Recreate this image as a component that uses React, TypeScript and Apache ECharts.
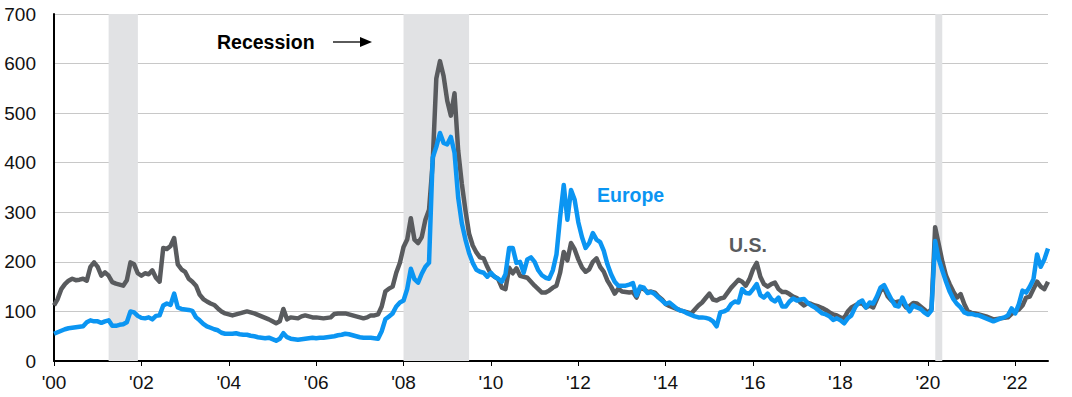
import { useEffect, useRef } from 'react';
import * as echarts from 'echarts';

// Monthly spreads (bps), Jan 2000 – Oct 2022
const startYear = 2000;

const usSpread: number[] = [
  112, 125, 145, 155, 162, 166, 163, 164, 166, 162, 190, 199, // 2000
  190, 172, 179, 172, 159, 156, 154, 152, 163, 199, 195, 177, // 2001
  172, 177, 175, 183, 168, 160, 228, 226, 232, 248, 195, 185, // 2002
  180, 166, 160, 152, 134, 125, 120, 116, 113, 106, 100, 96, // 2003
  94, 92, 94, 96, 98, 100, 98, 96, 93, 90, 87, 84, // 2004
  80, 76, 80, 105, 84, 88, 87, 86, 90, 92, 90, 88, // 2005
  88, 87, 86, 87, 88, 95, 96, 96, 96, 94, 92, 90, // 2006
  88, 86, 88, 92, 92, 94, 110, 140, 146, 150, 178, 198, // 2007
  230, 245, 288, 245, 238, 250, 285, 305, 400, 570, 605, 575, // 2008
  525, 495, 540, 425, 358, 304, 257, 233, 219, 209, 207, 190, // 2009
  175, 170, 165, 148, 145, 188, 177, 187, 172, 170, 168, 160, // 2010
  152, 145, 138, 138, 142, 148, 152, 178, 220, 203, 238, 225, // 2011
  205, 189, 180, 185, 200, 207, 190, 180, 162, 150, 136, 146, // 2012
  140, 139, 138, 139, 128, 148, 145, 139, 140, 138, 130, 124, // 2013
  115, 111, 108, 105, 102, 100, 98, 96, 104, 112, 118, 127, // 2014
  136, 124, 122, 126, 128, 138, 148, 156, 164, 160, 152, 165, // 2015
  185, 198, 170, 155, 150, 155, 158, 145, 139, 139, 135, 130, // 2016
  127, 118, 112, 117, 115, 112, 110, 107, 103, 98, 94, 92, // 2017
  88, 86, 100, 108, 112, 116, 116, 108, 112, 108, 125, 142, // 2018
  147, 130, 122, 118, 120, 118, 108, 111, 117, 116, 110, 104, // 2019
  97, 105, 270, 235, 200, 172, 155, 140, 128, 135, 115, 100, // 2020
  97, 96, 94, 92, 90, 87, 84, 85, 86, 87, 88, 95, // 2021
  100, 104, 112, 128, 130, 145, 160, 150, 145, 160, // 2022
];

const europeSpread: number[] = [
  55, 58, 61, 64, 66, 67, 68, 69, 70, 78, 82, 80, // 2000
  80, 77, 80, 82, 71, 71, 73, 74, 78, 100, 98, 91, // 2001
  87, 86, 88, 84, 91, 92, 112, 116, 113, 136, 108, 105, // 2002
  104, 103, 101, 88, 82, 75, 70, 67, 64, 62, 57, 55, // 2003
  55, 55, 56, 54, 53, 53, 51, 50, 48, 47, 46, 47, // 2004
  44, 41, 45, 56, 48, 45, 44, 43, 44, 45, 46, 47, // 2005
  46, 47, 47, 48, 49, 50, 52, 53, 55, 54, 52, 50, // 2006
  48, 47, 47, 47, 46, 45, 60, 84, 90, 96, 110, 118, // 2007
  122, 145, 186, 165, 158, 176, 190, 198, 410, 432, 460, 440, // 2008
  437, 452, 420, 330, 278, 245, 218, 198, 184, 180, 178, 170, // 2009
  178, 170, 166, 160, 175, 228, 228, 198, 200, 178, 205, 209, // 2010
  200, 183, 173, 168, 166, 183, 215, 290, 355, 285, 345, 325, // 2011
  280, 250, 228, 238, 258, 245, 240, 222, 195, 175, 160, 152, // 2012
  152, 152, 154, 157, 132, 150, 148, 137, 139, 135, 128, 122, // 2013
  115, 118, 112, 106, 102, 100, 96, 93, 90, 88, 88, 87, // 2014
  85, 80, 70, 98, 100, 104, 115, 120, 118, 145, 137, 136, // 2015
  145, 155, 133, 128, 136, 125, 120, 128, 110, 110, 120, 126, // 2016
  122, 124, 125, 117, 112, 108, 102, 96, 94, 90, 83, 86, // 2017
  82, 76, 86, 92, 108, 118, 122, 108, 118, 116, 130, 148, // 2018
  153, 138, 124, 112, 110, 128, 112, 100, 112, 108, 105, 98, // 2019
  93, 102, 242, 205, 182, 160, 140, 125, 115, 108, 98, 95, // 2020
  95, 93, 92, 89, 86, 83, 80, 83, 86, 88, 92, 106, // 2021
  96, 115, 142, 138, 150, 165, 215, 190, 205, 227, // 2022
];

// Recession periods (decimal years)
const recessionStarts = [2001.25, 2008.0, 2020.17];
const recessionEnds = [2001.92, 2009.5, 2020.33];

const xTickYears = [2000, 2002, 2004, 2006, 2008, 2010, 2012, 2014, 2016, 2018, 2020, 2022];
const xMax = 2022.75;
const yMin = 0;
const yMax = 700;
const yStep = 100;

const FONT = 'Liberation Sans, Arial, Helvetica, sans-serif';
const US_COLOR = '#595b5e';
const EU_COLOR = '#0b95f2';

export default function App() {
  const ref = useRef<HTMLDivElement>(null);

  useEffect(() => {
    if (!ref.current) return;
    const chart = echarts.init(ref.current, null, { renderer: 'svg' });
    const toPoints = (arr: number[]) => arr.map((v, i) => [startYear + i / 12, v]);

    chart.setOption({
      animation: false,
      textStyle: { fontFamily: FONT },
      grid: { left: 54, right: 24, top: 14, bottom: 36, containLabel: false },
      xAxis: {
        type: 'value',
        min: startYear,
        max: xMax,
        splitLine: { show: false },
        axisLine: { show: true, lineStyle: { color: '#000', width: 2 } },
        axisTick: {
          show: true,
          length: 5,
          lineStyle: { color: '#000', width: 1 },
          customValues: xTickYears,
        },
        axisLabel: {
          customValues: xTickYears,
          margin: 12,
          fontSize: 19,
          color: '#111',
          fontFamily: FONT,
          formatter: (v: number) => "'" + String(Math.round(v) % 100).padStart(2, '0'),
        },
      },
      yAxis: {
        type: 'value',
        min: yMin,
        max: yMax,
        interval: yStep,
        axisLine: { show: true, lineStyle: { color: '#000', width: 2 } },
        axisTick: { show: false },
        splitLine: { show: true, lineStyle: { color: '#c8c8c8', width: 1 } },
        axisLabel: { fontSize: 19, color: '#111', margin: 18, fontFamily: FONT },
      },
      series: [
        {
          name: 'Recession',
          type: 'line',
          data: [],
          z: 1,
          silent: true,
          markArea: {
            silent: true,
            itemStyle: { color: '#e1e2e4' },
            data: recessionStarts.map((s, i) => [{ xAxis: s }, { xAxis: recessionEnds[i] }]),
          },
        },
        {
          name: 'U.S.',
          type: 'line',
          data: toPoints(usSpread),
          showSymbol: false,
          z: 3,
          lineStyle: { color: US_COLOR, width: 4.5, join: 'round' },
          itemStyle: { color: US_COLOR },
        },
        {
          name: 'Europe',
          type: 'line',
          data: toPoints(europeSpread),
          showSymbol: false,
          z: 4,
          lineStyle: { color: EU_COLOR, width: 4.5, join: 'round' },
          itemStyle: { color: EU_COLOR },
        },
      ],
      graphic: [
        {
          type: 'text',
          x: 217,
          y: 42,
          z: 10,
          style: {
            text: 'Recession',
            font: `bold 19.5px ${FONT}`,
            fill: '#000',
            textVerticalAlign: 'middle',
            verticalAlign: 'middle',
          },
        },
        {
          type: 'line',
          z: 10,
          shape: { x1: 333, y1: 42, x2: 362, y2: 42 },
          style: { stroke: '#000', lineWidth: 1.3 },
        },
        {
          type: 'polygon',
          z: 10,
          shape: { points: [[360, 37], [372, 42], [360, 47]] },
          style: { fill: '#000' },
        },
        {
          type: 'text',
          x: 597,
          y: 195,
          z: 10,
          style: {
            text: 'Europe',
            font: `bold 19.5px ${FONT}`,
            fill: EU_COLOR,
            textVerticalAlign: 'middle',
            verticalAlign: 'middle',
          },
        },
        {
          type: 'text',
          x: 729,
          y: 245,
          z: 10,
          style: {
            text: 'U.S.',
            font: `bold 19.5px ${FONT}`,
            fill: US_COLOR,
            textVerticalAlign: 'middle',
            verticalAlign: 'middle',
          },
        },
      ],
    });

    return () => chart.dispose();
  }, []);

  return (
    <div
      ref={ref}
      style={{ position: 'fixed', left: 0, top: 0, width: 1072, height: 397, background: '#fff' }}
    />
  );
}
